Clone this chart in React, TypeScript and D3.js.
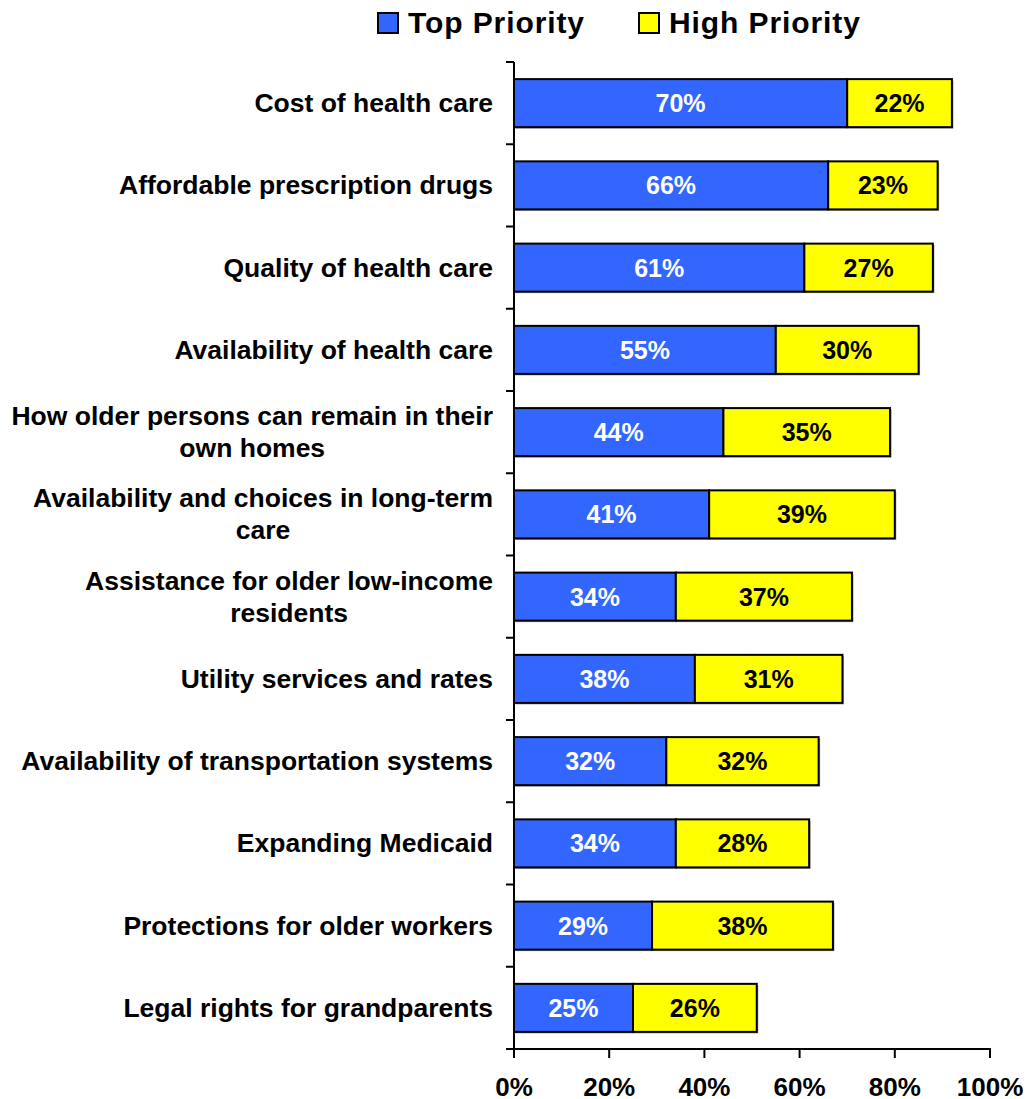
import React, { useEffect, useRef } from "react";
import * as d3 from "d3";

const categories: string[][] = [
  ["Cost of health care"],
  ["Affordable prescription drugs"],
  ["Quality of health care"],
  ["Availability of health care"],
  ["How older persons can remain in their", "own homes"],
  ["Availability and choices in long-term", "care"],
  ["Assistance for older low-income", "residents"],
  ["Utility services and rates"],
  ["Availability of transportation systems"],
  ["Expanding Medicaid"],
  ["Protections for older workers"],
  ["Legal rights for grandparents"],
];
const topPriority = [70, 66, 61, 55, 44, 41, 34, 38, 32, 34, 29, 25];
const highPriority = [22, 23, 27, 30, 35, 39, 37, 31, 32, 28, 38, 26];
const xTicks = [0, 20, 40, 60, 80, 100];
const seriesNames = ["Top Priority", "High Priority"];
const seriesColors = ["#3366FF", "#FFFF00"];
const labelColors = ["#FFFFFF", "#000000"];

const W = 1026;
const H = 1099;
const FONT = "'Liberation Sans', Arial, Helvetica, sans-serif";

export default function App() {
  const ref = useRef<SVGSVGElement | null>(null);

  useEffect(() => {
    const svg = d3.select(ref.current);
    svg.selectAll("*").remove();

    const x = d3.scaleLinear().domain([0, 100]).range([514, 990]);
    const idx = categories.map((_, i) => String(i));
    const y = d3
      .scaleBand<string>()
      .domain(idx)
      .range([62, 1049])
      .paddingInner(0.416)
      .paddingOuter(0.208);
    const step = y.step();

    const g = svg.append("g").attr("font-family", FONT).attr("font-weight", "bold");

    const stacks = categories.map((_, i) => [
      { s: 0, x0: 0, x1: topPriority[i], v: topPriority[i] },
      { s: 1, x0: topPriority[i], x1: topPriority[i] + highPriority[i], v: highPriority[i] },
    ]);

    stacks.forEach((segs, i) => {
      const yy = y(String(i))!;
      const bh = y.bandwidth();
      g.append("rect")
        .attr("x", x(0) + 1.5)
        .attr("y", yy + 1.5)
        .attr("width", x(segs[1].x1) - x(0))
        .attr("height", bh)
        .attr("fill", "#9a9a9a");
      segs.forEach((sg) => {
        g.append("rect")
          .attr("x", x(sg.x0))
          .attr("y", yy)
          .attr("width", x(sg.x1) - x(sg.x0))
          .attr("height", bh)
          .attr("fill", seriesColors[sg.s])
          .attr("stroke", "#000")
          .attr("stroke-width", 2);
        g.append("text")
          .attr("x", (x(sg.x0) + x(sg.x1)) / 2)
          .attr("y", yy + bh / 2 + 9)
          .attr("text-anchor", "middle")
          .attr("font-size", 25)
          .attr("fill", labelColors[sg.s])
          .text(`${sg.v}%`);
      });
    });

    // y axis line + ticks
    g.append("line")
      .attr("x1", 514).attr("x2", 514)
      .attr("y1", 62).attr("y2", 1049)
      .attr("stroke", "#000").attr("stroke-width", 2);
    for (let i = 0; i <= categories.length; i++) {
      const ty = 62 + i * step;
      g.append("line")
        .attr("x1", 506).attr("x2", 514)
        .attr("y1", ty).attr("y2", ty)
        .attr("stroke", "#000").attr("stroke-width", 2);
    }

    // x axis
    g.append("line")
      .attr("x1", 513).attr("x2", 991)
      .attr("y1", 1049).attr("y2", 1049)
      .attr("stroke", "#000").attr("stroke-width", 2);
    xTicks.forEach((t) => {
      g.append("line")
        .attr("x1", x(t)).attr("x2", x(t))
        .attr("y1", 1049).attr("y2", 1058)
        .attr("stroke", "#000").attr("stroke-width", 2);
      g.append("text")
        .attr("x", x(t))
        .attr("y", 1096)
        .attr("text-anchor", "middle")
        .attr("font-size", 26)
        .attr("fill", "#000")
        .text(`${t}%`);
    });

    // category labels (block right-aligned, lines centered)
    categories.forEach((lines, i) => {
      const cy = y(String(i))! + y.bandwidth() / 2;
      const lh = 32;
      const t = g.append("text")
        .attr("font-size", 26.5)
        .attr("fill", "#000")
        .attr("text-anchor", "middle");
      const tspans = lines.map((ln, k) =>
        t.append("tspan")
          .attr("y", cy + 9 + (k - (lines.length - 1) / 2) * lh)
          .text(ln)
      );
      let maxW = 0;
      tspans.forEach((ts) => {
        const w = (ts.node() as SVGTextContentElement).getComputedTextLength();
        if (w > maxW) maxW = w;
      });
      const cx = 493 - maxW / 2;
      tspans.forEach((ts) => ts.attr("x", cx));
    });

    // legend
    const legendX = [378, 639];
    seriesNames.forEach((name, i) => {
      g.append("rect")
        .attr("x", legendX[i])
        .attr("y", 13)
        .attr("width", 20)
        .attr("height", 20)
        .attr("fill", seriesColors[i])
        .attr("stroke", "#000")
        .attr("stroke-width", 2);
      g.append("text")
        .attr("x", legendX[i] + 30)
        .attr("y", 33)
        .attr("font-size", 30)
        .attr("letter-spacing", 0.9)
        .attr("fill", "#000")
        .text(name);
    });
  }, []);

  return (
    <svg
      ref={ref}
      width={W}
      height={H}
      style={{ position: "absolute", left: 0, top: 0, background: "#fff" }}
    />
  );
}
